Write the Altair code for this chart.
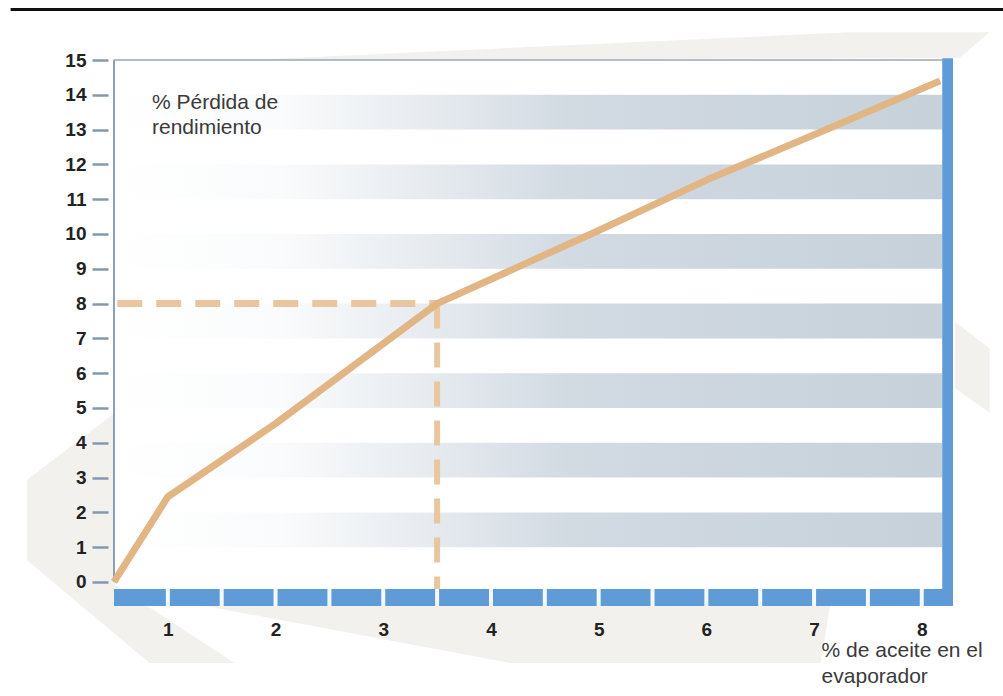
import altair as alt
import pandas as pd

# ---- data ----
curve_x = [0.5, 1.0, 2.0, 3.0, 3.5, 4.0, 5.0, 6.0, 7.0, 8.17]
curve_y = [0.0, 2.45, 4.55, 6.85, 8.0, 8.7, 10.1, 11.55, 12.85, 14.4]

ref_x = 3.5   # % de aceite
ref_y = 8.0   # % pérdida

x_ticks = [1, 2, 3, 4, 5, 6, 7, 8]
y_ticks = list(range(0, 16))

band_lows = [1, 3, 5, 7, 9, 11, 13]
bar_gaps = [1.0, 1.5, 2.0, 2.5, 3.0, 3.5, 4.0, 4.5, 5.0, 5.5, 6.0, 6.5, 7.0, 7.5, 8.0]

y_title_lines = ["% Pérdida de", "rendimiento"]
x_title_lines = ["% de aceite en el", "evaporador"]

# decorative background swooshes (data units)
swoosh_names = ["left", "bottom", "top", "right"]
swoosh_x = [
    [0.51, -0.31, -0.31, 0.83, 1.62, 0.51],
    [1.30, 4.18, 7.06, 7.15],
    [1.76, 7.33, 8.63, 8.35],
    [8.31, 8.63, 8.63, 8.31],
]
swoosh_y = [
    [4.86, 2.93, 0.63, -2.33, -2.33, -0.09],
    [-0.66, -2.33, -2.33, -0.66],
    [15.0, 15.8, 15.8, 15.06],
    [7.47, 6.72, 4.86, 5.57],
]

X_MIN, X_MAX = 0.5, 8.29
Y_MIN, Y_MAX = -0.69, 15.0
PLOT_RIGHT = 8.19
BAR_TOP, BAR_BOT = -0.2, -0.69

FONT = "Liberation Sans"
x_scale = alt.Scale(domain=[X_MIN, X_MAX], nice=False, zero=False)
y_scale = alt.Scale(domain=[Y_MIN, Y_MAX], nice=False, zero=False)
x_axis = alt.Axis(values=x_ticks, domain=False, ticks=False, grid=False,
                  labelFont=FONT, labelFontSize=19, labelFontWeight="bold",
                  labelColor="#222222", labelPadding=14, title=None,
                  labelOverlap=False, zindex=2)
y_axis = alt.Axis(values=y_ticks, domain=False, ticks=True, tickSize=16,
                  tickWidth=2.5, tickColor="#8498ad", offset=6, grid=False,
                  labelFont=FONT, labelFontSize=19, labelFontWeight="bold",
                  labelColor="#222222", labelPadding=6, title=None,
                  labelOverlap=False, zindex=2)


def X(f):
    return alt.X(f, type="quantitative", scale=x_scale, axis=x_axis)


def Y(f):
    return alt.Y(f, type="quantitative", scale=y_scale, axis=y_axis)


# swooshes
rows = []
for name, xs, ys in zip(swoosh_names, swoosh_x, swoosh_y):
    for i, (a, b) in enumerate(zip(xs, ys)):
        rows.append({"poly": name, "i": i, "x": a, "y": b})
swoosh_df = pd.DataFrame(rows)
swoosh = alt.Chart(swoosh_df).mark_line(filled=True, color="#f3f1ee").encode(
    x=X("x"), y=Y("y"), detail="poly:N", order="i:Q")

# gradient bands
band_df = pd.DataFrame({"x": [X_MIN] * len(band_lows),
                        "x2": [PLOT_RIGHT] * len(band_lows),
                        "y": band_lows,
                        "y2": [b + 1 for b in band_lows]})
grad = alt.Gradient(gradient="linear", x1=0, x2=1, y1=0, y2=0, stops=[
    alt.GradientStop(color="#ffffff", offset=0),
    alt.GradientStop(color="#fafbfc", offset=0.2),
    alt.GradientStop(color="#e4e9ee", offset=0.4),
    alt.GradientStop(color="#d2dae2", offset=0.55),
    alt.GradientStop(color="#c6d1da", offset=1),
])
bands = alt.Chart(band_df).mark_rect(color=grad).encode(
    x=X("x"), x2="x2", y=Y("y"), y2="y2")

# plot frame
left_df = pd.DataFrame({"x": [X_MIN], "y": [0], "y2": [Y_MAX]})
left_border = alt.Chart(left_df).mark_rule(color="#8ca1b7", strokeWidth=2).encode(
    x=X("x"), y=Y("y"), y2="y2")
top_df = pd.DataFrame({"x": [X_MIN], "x2": [PLOT_RIGHT], "y": [Y_MAX]})
top_border = alt.Chart(top_df).mark_rule(color="#9aa7b4", strokeWidth=1.5).encode(
    x=X("x"), x2="x2", y=Y("y"))

bar_df = pd.DataFrame({"x": [X_MIN, PLOT_RIGHT], "x2": [X_MAX, X_MAX],
                       "y": [BAR_BOT, BAR_BOT], "y2": [BAR_TOP, Y_MAX + 0.05]})
bars = alt.Chart(bar_df).mark_rect(color="#5f9bd6").encode(
    x=X("x"), x2="x2", y=Y("y"), y2="y2")
gap_df = pd.DataFrame({"x": bar_gaps, "y": [BAR_BOT] * len(bar_gaps),
                       "y2": [BAR_TOP] * len(bar_gaps)})
gaps = alt.Chart(gap_df).mark_rule(color="#f4f9fd", strokeWidth=4).encode(
    x=X("x"), y=Y("y"), y2="y2")

# dashed reference lines
dash_color = "#e9c6a0"
hdf = pd.DataFrame({"x": [X_MIN + 0.03], "x2": [ref_x], "y": [ref_y]})
hdash = alt.Chart(hdf).mark_rule(color=dash_color, strokeWidth=7,
                                 strokeDash=[25, 14]).encode(
    x=X("x"), x2="x2", y=Y("y"))
vdf = pd.DataFrame({"x": [ref_x], "y": [ref_y], "y2": [BAR_TOP]})
vdash = alt.Chart(vdf).mark_rule(color=dash_color, strokeWidth=6,
                                 strokeDash=[25, 14]).encode(
    x=X("x"), y=Y("y"), y2="y2")

# main curve
curve_df = pd.DataFrame({"x": curve_x, "y": curve_y})
curve = alt.Chart(curve_df).mark_line(color="#e2b585", strokeWidth=7,
                                      strokeJoin="round").encode(
    x=X("x"), y=Y("y"))

# titles as text
yt_df = pd.DataFrame({"x": [0.853, 0.853], "y": [13.76, 13.05], "t": y_title_lines})
ytitle = alt.Chart(yt_df).mark_text(align="left", baseline="middle", font=FONT,
                                    fontSize=21, color="#3a3a3a").encode(
    x=X("x"), y=Y("y"), text="t:N")
xt_df = pd.DataFrame({"x": [7.07, 7.07], "y": [-1.98, -2.73], "t": x_title_lines})
xtitle = alt.Chart(xt_df).mark_text(align="left", baseline="middle", font=FONT,
                                    fontSize=21, color="#3a3a3a").encode(
    x=X("x"), y=Y("y"), text="t:N")

# top black border line
tl_df = pd.DataFrame({"x": [-0.46], "x2": [9.5], "y": [16.45]})
topline = alt.Chart(tl_df).mark_rule(color="#111111", strokeWidth=3).encode(
    x=X("x"), x2="x2", y=Y("y"))

chart = alt.layer(
    swoosh, bands, left_border, top_border, bars, gaps, hdash, vdash, curve,
    ytitle, xtitle, topline
).properties(
    width=839, height=546,
    autosize=alt.AutoSizeParams(type="none"),
    padding={"left": 114, "top": 60, "right": 50, "bottom": 90},
    background="white",
).configure_view(stroke=None)

chart.save("out.html", embed_options={"renderer": "svg", "actions": False})
